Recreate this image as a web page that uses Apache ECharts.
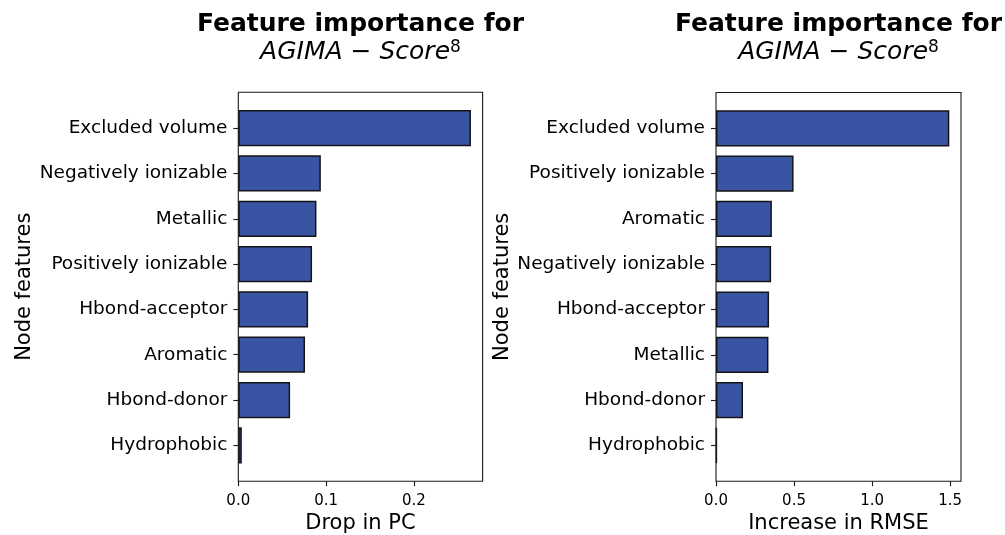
<!DOCTYPE html>
<html>
<head>
<meta charset="utf-8">
<script src="https://cdn.jsdelivr.net/npm/echarts@6/dist/echarts.min.js"></script>
<style>
  html, body { margin: 0; padding: 0; background: #ffffff; }
  #chart { width: 1005px; height: 535px; }
</style>
</head>
<body>
<div id="chart"></div>
<script>
// Feature importance, left panel: drop in PC per node feature
const categoriesPC = ['Excluded volume', 'Negatively ionizable', 'Metallic', 'Positively ionizable',
                      'Hbond-acceptor', 'Aromatic', 'Hbond-donor', 'Hydrophobic'];
const valuesPC = [0.265, 0.094, 0.089, 0.084, 0.0795, 0.076, 0.059, 0.004];

// Feature importance, right panel: increase in RMSE per node feature
const categoriesRMSE = ['Excluded volume', 'Positively ionizable', 'Aromatic', 'Negatively ionizable',
                        'Hbond-acceptor', 'Metallic', 'Hbond-donor', 'Hydrophobic'];
const valuesRMSE = [1.495, 0.497, 0.358, 0.353, 0.340, 0.336, 0.173, 0.005];

const xTickStepPC = 0.1;
const xTickStepRMSE = 0.5;
const xNamePC = 'Drop in PC';
const xNameRMSE = 'Increase in RMSE';
const yName = 'Node features';

const FONT = 'DejaVu Sans';
const BAR_FILL = '#3a54a4';
const BAR_EDGE = '#141414';
const INK = '#000000';
const LINE = '#1a1a1a';

const chart = echarts.init(document.getElementById('chart'), null, { renderer: 'canvas' });

// Axes frames (outer box) for both panels
const frames = [
  { left: 238.3, top: 92.3, width: 244.3, height: 388.9 },
  { left: 716.0, top: 92.5, width: 245.0, height: 388.7 }
];

// Category band region sits inside the frame: 8 bands plus a 0.29-band margin top and bottom
function innerGrid(f) {
  const pad = f.height * 0.29 / 8.58;
  return { left: f.left, top: f.top + pad, width: f.width, height: f.height - 2 * pad, pad: pad };
}

const panels = [
  { cats: categoriesPC, vals: valuesPC, step: xTickStepPC, xName: xNamePC, yGap: 203 },
  { cats: categoriesRMSE, vals: valuesRMSE, step: xTickStepRMSE, xName: xNameRMSE, yGap: 199 }
];

const grids = [];
const xAxes = [];
const yAxes = [];
const series = [];
const titles = [];

panels.forEach(function (p, i) {
  const f = frames[i];
  const g = innerGrid(f);
  // frame box
  grids.push({
    left: f.left, top: f.top, width: f.width, height: f.height,
    show: true, borderColor: LINE, borderWidth: 1.1, backgroundColor: 'transparent', z: 5,
    containLabel: false, outerBoundsMode: 'none'
  });
  // bar area
  grids.push({
    left: g.left, top: g.top, width: g.width, height: g.height,
    containLabel: false, outerBoundsMode: 'none'
  });
  const gi = grids.length - 1;

  xAxes.push({
    type: 'value', gridIndex: gi,
    min: 0, max: Math.max.apply(null, p.vals) * 1.05, interval: p.step,
    offset: g.pad,
    axisLine: { show: false },
    axisTick: { show: true, length: 5, lineStyle: { color: LINE, width: 1.1 } },
    splitLine: { show: false },
    axisLabel: {
      color: INK, fontFamily: FONT, fontSize: 15, margin: 12,
      showMaxLabel: false,
      formatter: function (v) { return v.toFixed(1); }
    },
    name: p.xName, nameLocation: 'middle', nameGap: 31,
    nameTextStyle: { color: INK, fontFamily: FONT, fontSize: 21 }
  });

  yAxes.push({
    type: 'category', gridIndex: gi, data: p.cats, inverse: true,
    axisLine: { show: false },
    axisTick: { show: true, alignWithLabel: true, length: 5, lineStyle: { color: LINE, width: 1.1 } },
    axisLabel: { color: INK, fontFamily: FONT, fontSize: 18.5, margin: 11 },
    splitLine: { show: false },
    name: yName, nameLocation: 'middle', nameGap: p.yGap, nameRotate: 90,
    nameTextStyle: { color: INK, fontFamily: FONT, fontSize: 21 }
  });

  series.push({
    type: 'bar', xAxisIndex: i, yAxisIndex: i,
    data: p.vals, barWidth: '80%',
    itemStyle: { color: BAR_FILL, borderColor: BAR_EDGE, borderWidth: 1.5 },
    silent: true, animation: false
  });

  titles.push({
    left: f.left + f.width / 2, top: 10.6, padding: 0,
    textAlign: 'center',
    text: '{b|Feature importance for}\n{it|AGIMA}{n| \u2212 }{it|Score}{sup|8}',
    textStyle: {
      fontWeight: 'normal',
      rich: {
        b: { fontFamily: FONT, fontWeight: 'bold', fontSize: 25, lineHeight: 28, color: '#000' },
        it: { fontFamily: FONT, fontStyle: 'italic', fontWeight: 'normal', fontSize: 25, lineHeight: 28, color: '#000' },
        n: { fontFamily: FONT, fontWeight: 'normal', fontSize: 25, lineHeight: 28, color: '#000' },
        sup: { fontFamily: FONT, fontWeight: 'normal', fontSize: 17, lineHeight: 17, verticalAlign: 'top', color: '#000' }
      }
    }
  });
});

chart.setOption({
  backgroundColor: '#ffffff',
  animation: false,
  title: titles,
  grid: grids,
  xAxis: xAxes,
  yAxis: yAxes,
  series: series
});
</script>
</body>
</html>
